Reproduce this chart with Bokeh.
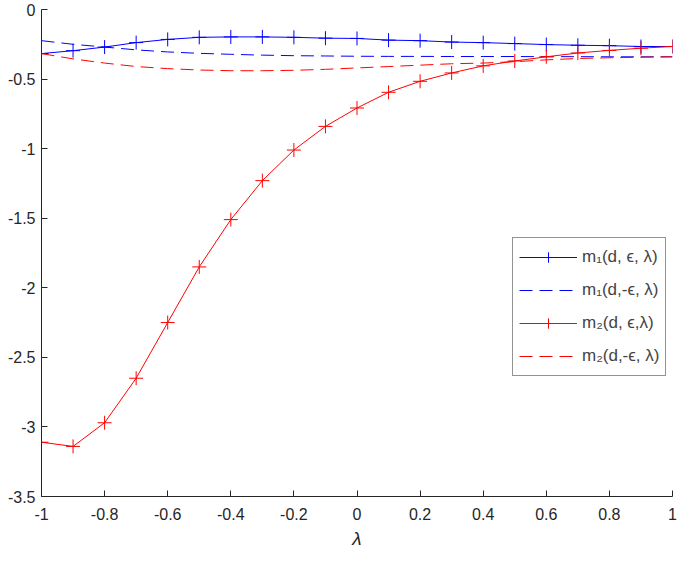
from bokeh.plotting import figure
from bokeh.models import FixedTicker, Range1d, Legend, LegendItem
from bokeh.embed import file_html
from bokeh.resources import INLINE

lam = [-1.0, -0.9, -0.8, -0.7, -0.6, -0.5, -0.4, -0.3, -0.2, -0.1, 0.0,
       0.1, 0.2, 0.3, 0.4, 0.5, 0.6, 0.7, 0.8, 0.9, 1.0]
m1_pos = [-0.317, -0.296, -0.27, -0.238, -0.215, -0.200, -0.197, -0.197, -0.200, -0.206, -0.208,
          -0.220, -0.224, -0.234, -0.238, -0.245, -0.252, -0.257, -0.260, -0.266, -0.266]
m1_neg = [-0.224, -0.25, -0.27, -0.29, -0.305, -0.315, -0.322, -0.328, -0.332, -0.334, -0.336,
          -0.337, -0.337, -0.338, -0.338, -0.338, -0.339, -0.339, -0.34, -0.34, -0.34]
m2_pos = [-3.11, -3.14, -2.97, -2.65, -2.25, -1.85, -1.51, -1.23, -1.01, -0.84, -0.708,
          -0.595, -0.516, -0.456, -0.405, -0.37, -0.34, -0.3125, -0.294, -0.278, -0.266]
m2_neg = [-0.317, -0.355, -0.385, -0.41, -0.425, -0.435, -0.44, -0.44, -0.437, -0.43, -0.42,
          -0.41, -0.40, -0.39, -0.385, -0.375, -0.362, -0.352, -0.347, -0.343, -0.34]

x_ticks = [-1.0, -0.8, -0.6, -0.4, -0.2, 0.0, 0.2, 0.4, 0.6, 0.8, 1.0]
y_ticks = [-3.5, -3.0, -2.5, -2.0, -1.5, -1.0, -0.5, 0.0]
labels = ["m\u2081(d, \u03f5, \u03bb)", "m\u2081(d,-\u03f5, \u03bb)",
          "m\u2082(d, \u03f5,\u03bb)", "m\u2082(d,-\u03f5, \u03bb)"]

FONT = "Liberation Sans"
BLUE = "#0000ff"
RED = "#ff0000"

p = figure(width=677, height=551, output_backend="svg", toolbar_location=None,
           x_range=Range1d(-1, 1), y_range=Range1d(-3.5, 0),
           min_border_left=41, min_border_right=5, min_border_top=9, min_border_bottom=52)
p.outline_line_color = None
p.xgrid.visible = False
p.ygrid.visible = False

r1 = p.line(lam, m1_pos, line_color=BLUE, line_width=1)
s1 = p.scatter(lam, m1_pos, marker="cross", size=14, line_color=BLUE, line_width=1)
r2 = p.line(lam, m1_neg, line_color=BLUE, line_width=1, line_dash="13 7")
r3 = p.line(lam, m2_pos, line_color=RED, line_width=1)
s3 = p.scatter(lam, m2_pos, marker="cross", size=14, line_color=RED, line_width=1)
r4 = p.line(lam, m2_neg, line_color=RED, line_width=1, line_dash="13 7")

legend = Legend(items=[
    LegendItem(label=labels[0], renderers=[r1, s1]),
    LegendItem(label=labels[1], renderers=[r2]),
    LegendItem(label=labels[2], renderers=[r3, s3]),
    LegendItem(label=labels[3], renderers=[r4]),
], location=(471, 120))
legend.label_text_font = FONT
legend.label_text_font_size = "17px"
legend.glyph_width = 58
legend.glyph_height = 26
legend.label_height = 26
legend.spacing = 7
legend.padding = 6
legend.margin = 0
legend.label_standoff = 5
legend.border_line_color = "#262626"
legend.border_line_width = 1
legend.background_fill_alpha = 1
p.add_layout(legend, "center")

for ax in (p.xaxis[0], p.yaxis[0]):
    ax.major_tick_in = 6
    ax.major_tick_out = 0
    ax.minor_tick_line_color = None
    ax.axis_line_color = "#262626"
    ax.major_tick_line_color = "#262626"
    ax.major_label_text_font = FONT
    ax.major_label_text_font_size = "16px"
    ax.major_label_text_color = "#262626"

p.xaxis.ticker = FixedTicker(ticks=x_ticks)
p.yaxis.ticker = FixedTicker(ticks=y_ticks)
p.xaxis.major_label_overrides = {t: f"{t:g}" for t in x_ticks}
p.yaxis.major_label_overrides = {t: f"{t:g}" for t in y_ticks}
p.xaxis.axis_label = "\u03bb"
p.xaxis.axis_label_text_font = FONT
p.xaxis.axis_label_text_font_style = "italic"
p.xaxis.axis_label_text_font_size = "19px"
p.xaxis.axis_label_text_color = "#262626"
p.xaxis.axis_label_standoff = 5
p.xaxis.major_label_standoff = 11
p.yaxis.major_label_standoff = 6

open("out.html", "w").write(file_html(p, INLINE))
